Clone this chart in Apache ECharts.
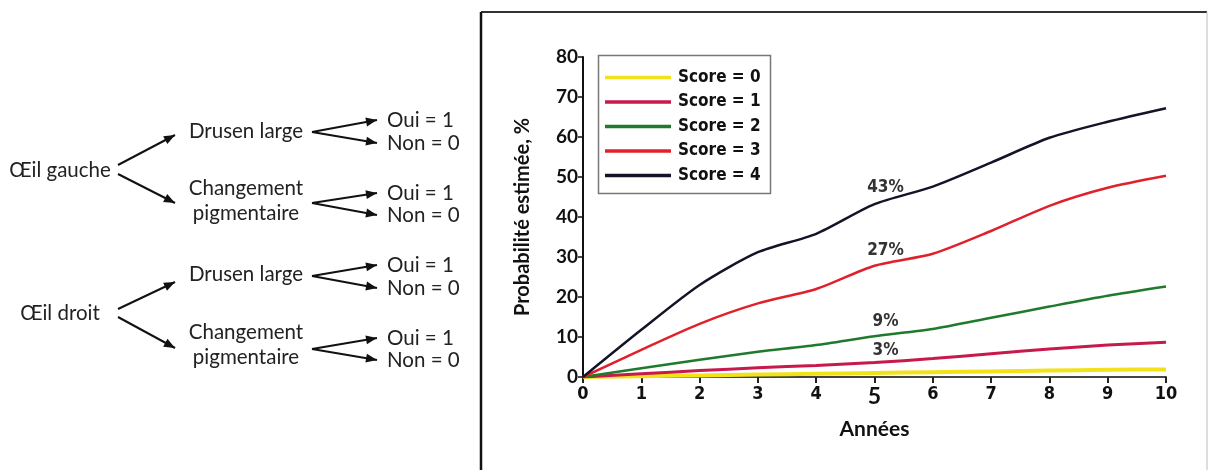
<!DOCTYPE html>
<html>
<head>
<meta charset="utf-8">
<script src="https://cdn.jsdelivr.net/npm/echarts@6/dist/echarts.min.js"></script>
<style>
html,body{margin:0;padding:0;background:#fff;}
#c{width:1212px;height:470px;}
</style>
</head>
<body>
<div id="c"></div>
<script>
// ---- data ----
var years = [0, 1, 2, 3, 4, 5, 6, 7, 8, 9, 10];
var seriesNames = ['Score = 0', 'Score = 1', 'Score = 2', 'Score = 3', 'Score = 4'];
var score0 = [0, 0.2, 0.4, 0.6, 0.8, 1.0, 1.2, 1.4, 1.6, 1.8, 1.9];
var score1 = [0, 0.8, 1.6, 2.3, 2.9, 3.6, 4.6, 5.8, 7.0, 8.0, 8.7];
var score2 = [0, 2.2, 4.3, 6.3, 8.0, 10.2, 12.0, 14.8, 17.6, 20.3, 22.6];
var score3 = [0, 6.8, 13.3, 18.4, 22.0, 27.8, 30.8, 36.5, 42.8, 47.3, 50.3];
var score4 = [0, 11.8, 23.0, 31.2, 35.8, 43.2, 47.6, 53.6, 59.8, 63.8, 67.2];
var annotations = ['', '3%', '9%', '27%', '43%'];
var annotationYear = 5;

// tree diagram texts
var treeRoots = ['Œil gauche', 'Œil droit'];
var treeBranches = ['Drusen large', 'Changement\npigmentaire'];
var treeLeaves = ['Oui = 1', 'Non = 0'];

// ---- style ----
var colors = ['#f2e21a', '#c8194d', '#1f7a2c', '#e0212b', '#141428'];
var widths = [4, 3, 2.5, 2.5, 2.5];
var labelDistance = [0, 4, 6, 7, 8];
var condensed = "'Liberation Sans Narrow','DejaVu Sans Condensed',Lato,sans-serif";
var humanist = "Lato,'Open Sans',sans-serif";

var allSeries = [score0, score1, score2, score3, score4];

var series = allSeries.map(function (vals, i) {
  return {
    name: seriesNames[i],
    type: 'line',
    smooth: 0.25,
    symbol: 'circle',
    symbolSize: 0,
    showSymbol: true,
    z: 2 + i,
    lineStyle: { color: colors[i], width: widths[i] },
    itemStyle: { color: colors[i] },
    emphasis: { disabled: true },
    data: years.map(function (y, k) {
      var d = { value: [y, vals[k]] };
      if (y === annotationYear && annotations[i]) {
        d.label = {
          show: true,
          position: 'top',
          distance: labelDistance[i],
          offset: [11, 0],
          formatter: annotations[i],
          fontFamily: condensed,
          fontWeight: 'bold',
          fontSize: 17,
          color: '#333'
        };
      }
      return d;
    })
  };
});

// ---- graphic: tree diagram + frame ----
var graphics = [];
function txt(x, y, s, align) {
  graphics.push({
    type: 'text', x: x, y: y,
    style: {
      text: s, fill: '#222', font: '20.5px ' + humanist,
      align: align || 'left', verticalAlign: 'middle', lineHeight: 25
    }
  });
}
function arrow(x1, y1, x2, y2) {
  graphics.push({
    type: 'line',
    shape: { x1: x1, y1: y1, x2: x2, y2: y2 },
    style: { stroke: '#111', lineWidth: 2 }
  });
  var a = Math.atan2(y2 - y1, x2 - x1), L = 11, W = 4.5;
  var bx = x2 - L * Math.cos(a), by = y2 - L * Math.sin(a);
  graphics.push({
    type: 'polygon',
    shape: { points: [[x2, y2], [bx + W * Math.sin(a), by - W * Math.cos(a)], [bx - W * Math.sin(a), by + W * Math.cos(a)]] },
    style: { fill: '#111' }
  });
}
var blocks = [
  { rootY: 170, branchY: [131, 201], fromY: [[132, 132], [203, 203]], leafY: [[120, 143], [193, 215]], up: [165, 135], down: [174, 203] },
  { rootY: 313, branchY: [274, 345], fromY: [[276, 276], [349, 349]], leafY: [[265, 288], [338, 360]], up: [309, 282], down: [317, 348] }
];
blocks.forEach(function (b, i) {
  txt(60, b.rootY, treeRoots[i], 'center');
  arrow(118, b.up[0], 175, b.up[1]);
  arrow(118, b.down[0], 175, b.down[1]);
  b.branchY.forEach(function (by, j) {
    txt(246, by, treeBranches[j], 'center');
    arrow(312, b.fromY[j][0], 377, b.leafY[j][0]);
    arrow(312, b.fromY[j][1], 377, b.leafY[j][1]);
    txt(387, b.leafY[j][0], treeLeaves[0]);
    txt(387, b.leafY[j][1], treeLeaves[1]);
  });
});
// frame
graphics.push({ type: 'line', shape: { x1: 481, y1: 12, x2: 1207, y2: 12 }, style: { stroke: '#333', lineWidth: 2 } });
graphics.push({ type: 'line', shape: { x1: 481, y1: 12, x2: 481, y2: 470 }, style: { stroke: '#111', lineWidth: 2.5 } });
graphics.push({ type: 'line', shape: { x1: 1207, y1: 12, x2: 1207, y2: 470 }, style: { stroke: '#bbb', lineWidth: 1 } });
// legend box
graphics.push({ type: 'rect', shape: { x: 598.5, y: 55.5, width: 172, height: 138 }, style: { fill: '#fff', stroke: '#777', lineWidth: 1.5 }, z: 0 });

var chart = echarts.init(document.getElementById('c'), null, { renderer: 'canvas' });
chart.setOption({
  animation: false,
  backgroundColor: '#fff',
  graphic: { elements: graphics },
  grid: { left: 583, right: 46, top: 57, bottom: 93, containLabel: false },
  legend: {
    orient: 'vertical',
    left: 605,
    top: 67,
    padding: 0,
    itemWidth: 66,
    itemHeight: 3.5,
    itemGap: 3.5,
    z: 10,
    textStyle: { fontFamily: condensed, fontWeight: 'bold', fontSize: 17, color: '#111', height: 21, lineHeight: 21, padding: [0, 0, 0, 2] },
    data: seriesNames.map(function (n) { return { name: n, icon: 'rect' }; })
  },
  xAxis: {
    type: 'value', min: 0, max: 10, interval: 1,
    name: 'Années', nameLocation: 'middle', nameGap: 42,
    nameTextStyle: { fontFamily: humanist, fontWeight: 'bold', fontSize: 21, color: '#111' },
    axisLine: { lineStyle: { color: '#444', width: 2 } },
    axisTick: { show: true, inside: false, length: 6, lineStyle: { color: '#222', width: 2 } },
    splitLine: { show: false },
    axisLabel: {
      margin: 8,
      formatter: function (v) { return v === 5 ? '{b|5}' : '{a|' + v + '}'; },
      rich: {
        a: { fontFamily: condensed, fontWeight: 'bold', fontSize: 18, color: '#111' },
        b: { fontFamily: humanist, fontWeight: 'bold', fontSize: 23, color: '#111' }
      }
    }
  },
  yAxis: {
    type: 'value', min: 0, max: 80, interval: 10,
    name: 'Probabilité estimée, %', nameLocation: 'middle', nameGap: 50, nameRotate: 90,
    nameTextStyle: { fontFamily: humanist, fontWeight: 'bold', fontSize: 20, color: '#111' },
    axisLine: { show: true, lineStyle: { color: '#111', width: 2 } },
    axisTick: { show: true, inside: false, length: 5, lineStyle: { color: '#111', width: 1.5 } },
    splitLine: { show: false },
    axisLabel: { margin: 5, fontFamily: humanist, fontWeight: 'bold', fontSize: 19, color: '#111' }
  },
  series: series
});
</script>
</body>
</html>
